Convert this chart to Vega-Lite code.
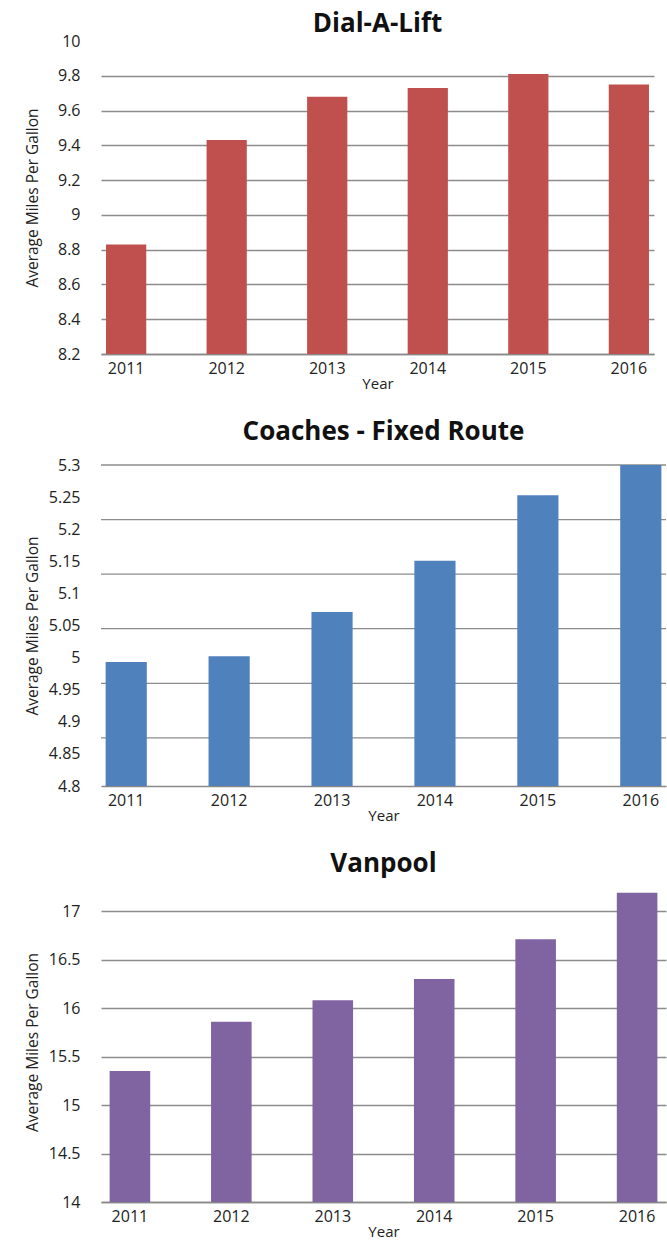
{
  "$schema": "https://vega.github.io/schema/vega-lite/v6.json",
  "padding": {"left": 25, "top": 11, "right": 0, "bottom": 0},
  "spacing": 28,
  "config": {
    "view": {"stroke": null},
    "font": "Open Sans",
    "title": {"font": "Open Sans", "fontSize": 26, "fontWeight": "bold", "color": "#111", "anchor": "middle", "offset": 0},
    "axis": {
      "labelFont": "Open Sans", "labelFontSize": 16, "labelColor": "#222", "labelOverlap": false,
      "titleFont": "Open Sans", "titleFontSize": 15.5, "titleFontWeight": "normal", "titleColor": "#222",
      "tickSize": 0, "domainColor": "#888", "domainWidth": 1.5,
      "gridColor": "#8c8c8c", "gridWidth": 1.3
    },
    "axisY": {"labelPadding": 21, "minExtent": 50, "maxExtent": 50, "titlePadding": 11, "domain": false},
    "axisX": {"labelPadding": 6, "titlePadding": 0, "labelAngle": 0, "grid": false, "titleFontSize": 15}
  },
  "vconcat": [
    {
      "title": {"text": "Dial-A-Lift", "offset": -4},
      "width": 553, "height": 313,
      "data": {"values": [
        {"Year": "2011", "MPG": 8.83},
        {"Year": "2012", "MPG": 9.43},
        {"Year": "2013", "MPG": 9.68},
        {"Year": "2014", "MPG": 9.73},
        {"Year": "2015", "MPG": 9.81},
        {"Year": "2016", "MPG": 9.75}
      ]},
      "mark": {"type": "bar", "color": "#C0504D", "clip": true},
      "encoding": {
        "x": {"field": "Year", "type": "ordinal", "title": "Year",
              "scale": {"paddingInner": 0.6, "paddingOuter": 0.05}},
        "y": {"field": "MPG", "type": "quantitative", "title": "Average Miles Per Gallon",
              "scale": {"domain": [8.2, 10], "nice": false, "zero": false},
              "axis": {"values": [8.2, 8.4, 8.6, 8.8, 9, 9.2, 9.4, 9.6, 9.8, 10], "format": "~g", "labelOverlap": false,
                       "gridColor": {"condition": {"test": "datum.value >= 10", "value": "transparent"}, "value": "#8c8c8c"}}}
      }
    },
    {
      "title": {"text": "Coaches - Fixed Route", "offset": 12},
      "width": 565, "height": 321,
      "layer": [
        {
          "data": {"values": [
            {"Grid": 4.875}, {"Grid": 4.96}, {"Grid": 5.045}, {"Grid": 5.13}, {"Grid": 5.215}, {"Grid": 5.3}
          ]},
          "mark": {"type": "rule", "color": "#8c8c8c", "strokeWidth": 1.3},
          "encoding": {"y": {"field": "Grid", "type": "quantitative", "title": "Average Miles Per Gallon",
                  "scale": {"domain": [4.8, 5.3], "nice": false, "zero": false},
                  "axis": {"values": [4.8, 4.85, 4.9, 4.95, 5, 5.05, 5.1, 5.15, 5.2, 5.25, 5.3], "format": "~g", "grid": false, "labelOverlap": false}}}
        },
        {
          "data": {"values": [
            {"Year": "2011", "MPG": 4.993},
            {"Year": "2012", "MPG": 5.002},
            {"Year": "2013", "MPG": 5.071},
            {"Year": "2014", "MPG": 5.151},
            {"Year": "2015", "MPG": 5.253},
            {"Year": "2016", "MPG": 5.3}
          ]},
          "mark": {"type": "bar", "color": "#4F81BD", "clip": true},
          "encoding": {
            "x": {"field": "Year", "type": "ordinal", "title": "Year",
                  "scale": {"paddingInner": 0.6, "paddingOuter": 0.045}},
            "y": {"field": "MPG", "type": "quantitative", "title": "Average Miles Per Gallon",
                  "scale": {"domain": [4.8, 5.3], "nice": false, "zero": false},
                  "axis": {"values": [4.8, 4.85, 4.9, 4.95, 5, 5.05, 5.1, 5.15, 5.2, 5.25, 5.3], "format": "~g", "grid": false, "labelOverlap": false}}
          }
        }
      ]
    },
    {
      "title": {"text": "Vanpool", "offset": 5},
      "width": 565, "height": 320,
      "data": {"values": [
        {"Year": "2011", "MPG": 15.35},
        {"Year": "2012", "MPG": 15.86},
        {"Year": "2013", "MPG": 16.08},
        {"Year": "2014", "MPG": 16.3},
        {"Year": "2015", "MPG": 16.71},
        {"Year": "2016", "MPG": 17.19}
      ]},
      "mark": {"type": "bar", "color": "#8064A2", "clip": true},
      "encoding": {
        "x": {"field": "Year", "type": "ordinal", "title": "Year",
              "scale": {"paddingInner": 0.6, "paddingOuter": 0.085}},
        "y": {"field": "MPG", "type": "quantitative", "title": "Average Miles Per Gallon",
              "scale": {"domain": [14, 17.3], "nice": false, "zero": false},
              "axis": {"values": [14, 14.5, 15, 15.5, 16, 16.5, 17], "format": "~g", "labelOverlap": false}}
      }
    }
  ]
}
